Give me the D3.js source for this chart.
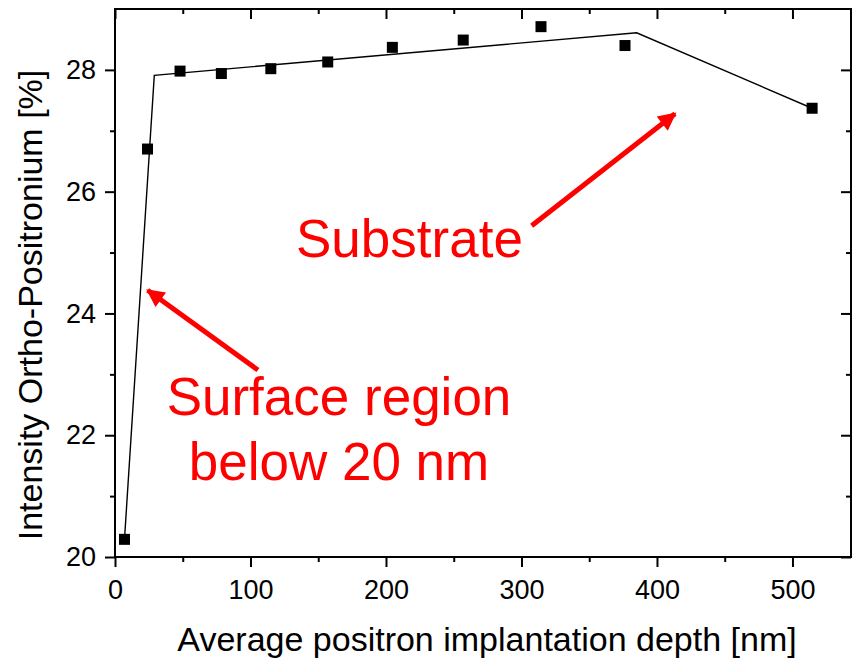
<!DOCTYPE html>
<html>
<head>
<meta charset="utf-8">
<script src="https://cdn.jsdelivr.net/npm/d3@7"></script>
<style>
  body { margin: 0; background: #fff; }
  svg { display: block; }
  .axis text { font-family: "Liberation Sans", Arial, sans-serif; font-size: 27px; fill: #000; }
  .axis path, .axis line { stroke: #000; stroke-width: 2; }
  .title { font-family: "Liberation Sans", Arial, sans-serif; font-size: 34px; fill: #000; }
  .note { font-family: "Liberation Sans", Arial, sans-serif; font-size: 53px; fill: #ff0000; }
</style>
</head>
<body>
<div id="chart"></div>
<script>
// measured points
const depth = [7, 24, 48, 78.5, 115, 157, 204.7, 257, 314.4, 376.4, 514.5];
const intensity = [20.29, 26.70, 27.98, 27.94, 28.02, 28.13, 28.37, 28.49, 28.71, 28.40, 27.37];

// piecewise fit line
const fitDepth = [7, 29, 385, 514.5];
const fitIntensity = [20.29, 27.91, 28.61, 27.37];

const xMajor = [0, 100, 200, 300, 400, 500];
const xMinor = [50, 150, 250, 350, 450];
const yMajor = [20, 22, 24, 26, 28];
const yMinor = [21, 23, 25, 27];

const xTitle = 'Average positron implantation depth [nm]';
const yTitle = 'Intensity Ortho-Positronium [%]';

// arrows: [fromX, fromY, toX, toY] in data units
const arrows = [
  [105.5, 23.07, 24.1, 24.38],
  [307.5, 25.44, 413.3, 27.28]
];

const W = 852, H = 660;
const margin = {top: 9, right: 1, bottom: 103, left: 115};
const w = W - margin.left - margin.right;
const h = H - margin.top - margin.bottom;

const svg = d3.select('#chart').append('svg')
  .attr('width', W)
  .attr('height', H);

const defs = svg.append('defs');
defs.append('marker')
  .attr('id', 'head')
  .attr('viewBox', '0 0 10 10')
  .attr('refX', 9)
  .attr('refY', 5)
  .attr('markerWidth', 4.4)
  .attr('markerHeight', 3.6)
  .attr('markerUnits', 'strokeWidth')
  .attr('orient', 'auto')
  .append('path')
  .attr('d', 'M0,0 L10,5 L0,10 z')
  .attr('fill', '#ff0000');

const g = svg.append('g')
  .attr('transform', `translate(${margin.left},${margin.top})`);

const x = d3.scaleLinear().domain([0, 543.2]).range([0, w]);
const y = d3.scaleLinear().domain([20, 29]).range([h, 0]);

// bottom axis
g.append('g').attr('class', 'axis')
  .attr('transform', `translate(0,${h})`)
  .call(d3.axisBottom(x).tickValues(xMajor).tickSize(10).tickPadding(13).tickFormat(d3.format('d')))
  .call(a => a.select('.domain').remove());
g.append('g').attr('class', 'axis')
  .attr('transform', `translate(0,${h})`)
  .call(d3.axisBottom(x).tickValues(xMinor).tickSize(5).tickFormat(''))
  .call(a => a.select('.domain').remove());

// top axis (inward)
g.append('g').attr('class', 'axis')
  .call(d3.axisTop(x).tickValues(xMajor).tickSize(-10).tickFormat(''))
  .call(a => a.select('.domain').remove());
g.append('g').attr('class', 'axis')
  .call(d3.axisTop(x).tickValues(xMinor).tickSize(-5).tickFormat(''))
  .call(a => a.select('.domain').remove());

// left axis
g.append('g').attr('class', 'axis')
  .call(d3.axisLeft(y).tickValues(yMajor).tickSize(10).tickPadding(9).tickFormat(d3.format('d')))
  .call(a => a.select('.domain').remove());
g.append('g').attr('class', 'axis')
  .call(d3.axisLeft(y).tickValues(yMinor).tickSize(5).tickFormat(''))
  .call(a => a.select('.domain').remove());

// right axis (inward)
g.append('g').attr('class', 'axis')
  .attr('transform', `translate(${w},0)`)
  .call(d3.axisRight(y).tickValues(yMajor).tickSize(-10).tickFormat(''))
  .call(a => a.select('.domain').remove());
g.append('g').attr('class', 'axis')
  .attr('transform', `translate(${w},0)`)
  .call(d3.axisRight(y).tickValues(yMinor).tickSize(-5).tickFormat(''))
  .call(a => a.select('.domain').remove());

// frame
g.append('rect')
  .attr('width', w)
  .attr('height', h)
  .attr('fill', 'none')
  .attr('stroke', '#000')
  .attr('stroke-width', 2);

// fit line
const line = d3.line()
  .x(i => x(fitDepth[i]))
  .y(i => y(fitIntensity[i]));
g.append('path')
  .datum(d3.range(fitDepth.length))
  .attr('d', line)
  .attr('fill', 'none')
  .attr('stroke', '#000')
  .attr('stroke-width', 1.4);

// square markers
const sz = 11;
g.selectAll('.pt')
  .data(d3.range(depth.length))
  .enter()
  .append('rect')
  .attr('class', 'pt')
  .attr('x', i => x(depth[i]) - sz / 2)
  .attr('y', i => y(intensity[i]) - sz / 2)
  .attr('width', sz)
  .attr('height', sz)
  .attr('fill', '#000');

// arrows
g.selectAll('.arrow')
  .data(arrows)
  .enter()
  .append('line')
  .attr('class', 'arrow')
  .attr('x1', d => x(d[0]))
  .attr('y1', d => y(d[1]))
  .attr('x2', d => x(d[2]))
  .attr('y2', d => y(d[3]))
  .attr('stroke', '#ff0000')
  .attr('stroke-width', 5)
  .attr('marker-end', 'url(#head)');

// annotations
g.append('text').attr('class', 'note')
  .attr('x', 296 - margin.left)
  .attr('y', 257 - margin.top)
  .text('Substrate');
g.append('text').attr('class', 'note')
  .attr('x', 339 - margin.left)
  .attr('y', 415 - margin.top)
  .attr('text-anchor', 'middle')
  .text('Surface region');
g.append('text').attr('class', 'note')
  .attr('x', 339 - margin.left)
  .attr('y', 480 - margin.top)
  .attr('text-anchor', 'middle')
  .text('below 20 nm');

// axis titles
svg.append('text').attr('class', 'title')
  .attr('x', 487)
  .attr('y', 651)
  .attr('text-anchor', 'middle')
  .text(xTitle);
svg.append('text').attr('class', 'title')
  .attr('transform', 'translate(42,305) rotate(-90)')
  .attr('text-anchor', 'middle')
  .text(yTitle);
</script>
</body>
</html>
